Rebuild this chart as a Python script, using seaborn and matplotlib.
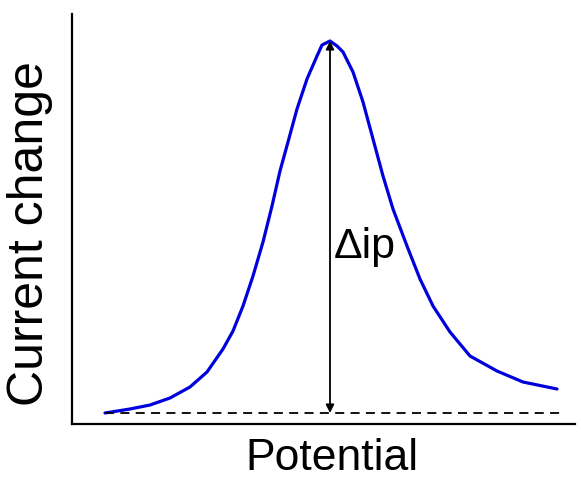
import matplotlib
matplotlib.use("Agg")
import matplotlib.pyplot as plt
import seaborn as sns
import pandas as pd

# Data (arbitrary units)
potential = [33, 58, 78, 98, 118, 135, 151, 161, 171, 181, 191, 200, 208, 216,
             225, 235, 245, 250, 258, 265, 271, 281, 291, 301, 311, 321, 335,
             348, 361, 378, 398, 425, 451, 485]
current = [11, 15, 19, 26, 37, 52, 75, 93, 118, 148, 182, 218, 253, 282,
           315, 345, 368, 379, 383, 378, 372, 352, 322, 285, 248, 215, 178,
           145, 118, 92, 68, 53, 42, 35]
baseline = 11
peak_x = 258
peak_y = 383
base_x = [33, 490]

sns.set_theme(style="white")
plt.rcParams['font.family'] = ['Liberation Sans', 'DejaVu Sans']

fig = plt.figure(figsize=(5.81, 4.81), dpi=100)
ax = fig.add_axes([72/581, (481-425)/481, (575-72)/581, (425-15)/481])

df = pd.DataFrame({"Potential": potential, "Current": current})
sns.lineplot(data=df, x="Potential", y="Current", ax=ax, color="#0000dd",
             linewidth=2.3, sort=False, solid_joinstyle="round",
             solid_capstyle="round")
ax.plot(base_x, [baseline, baseline], color="black", linestyle=(0, (5, 3.5)),
        linewidth=1.3)
ax.annotate("", xy=(peak_x, peak_y), xytext=(peak_x, baseline),
            arrowprops=dict(arrowstyle="<|-|>", color="black", lw=1.3,
                            mutation_scale=12, shrinkA=0, shrinkB=0))
ax.text(peak_x + 4, 167, "\u0394ip", fontsize=31, ha="left", va="baseline",
        color="black")

ax.set_xlim(0, 503)
ax.set_ylim(0, 410)
ax.set_xticks([])
ax.set_yticks([])
ax.set_xlabel("Potential", fontsize=32, color="black")
ax.set_ylabel("Current change", fontsize=36, color="black")
ax.xaxis.label.set_va("center")
ax.yaxis.label.set_va("center")
ax.xaxis.set_label_coords((332 - 72) / 503, -(459 - 425) / 410)
ax.yaxis.set_label_coords(-(72 - 30) / 503, (425 - 234) / 410)
for s in ["top", "right"]:
    ax.spines[s].set_visible(False)
for s in ["left", "bottom"]:
    ax.spines[s].set_color("black")
    ax.spines[s].set_linewidth(1.6)

fig.savefig("out.png", dpi=100)
